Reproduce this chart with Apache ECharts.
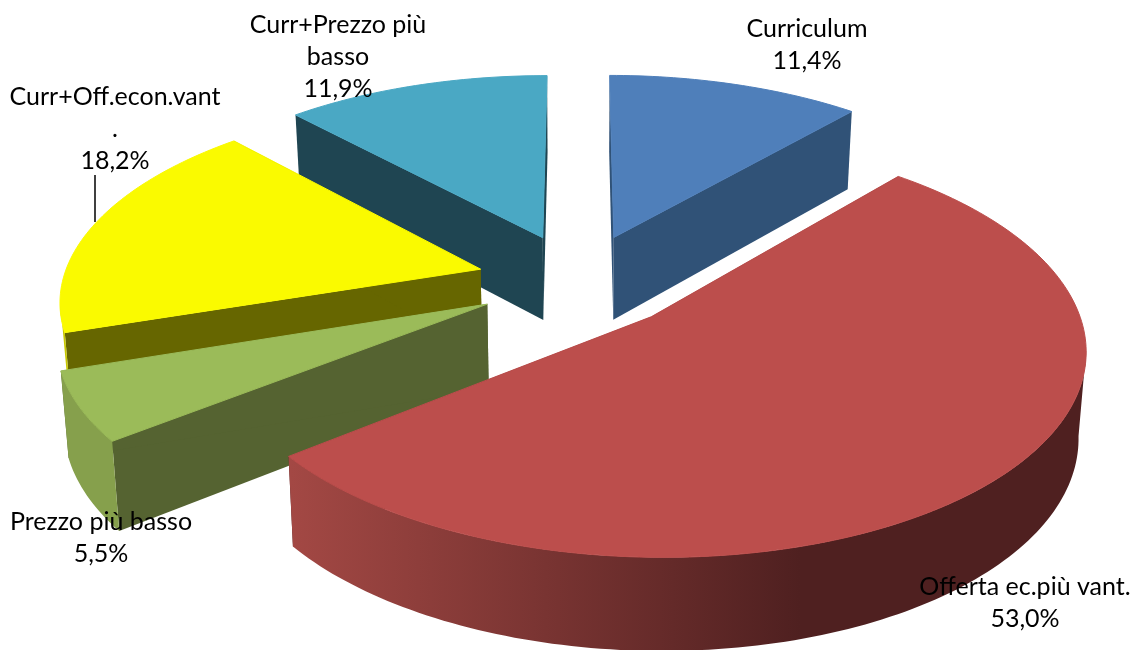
<!DOCTYPE html>
<html>
<head>
<meta charset="utf-8">
<style>
  html, body { margin: 0; padding: 0; background: #fff; }
  #chart { width: 1133px; height: 650px; }
</style>
<script src="https://cdn.jsdelivr.net/npm/echarts@6/dist/echarts.min.js"></script>
</head>
<body>
<div id="chart"></div>
<script>
// slices clockwise from 12 o'clock
const categories = ['Curriculum', 'Offerta ec.più vant.', 'Prezzo più basso', 'Curr+Off.econ.vant\n.', 'Curr+Prezzo più\nbasso'];
const percents = [11.4, 53.0, 5.5, 18.2, 11.9];

const topColors = ['#4F7FBA', '#BC4E4C', '#9BBB59', '#FAFA00', '#4AA8C4'];
const wallColors = ['#305277', '#4F2020', '#556331', '#666600', '#1F4552'];
const rimColors = ['#2A4A6E', null, '#86A04C', '#C8C800', '#3E93AB'];
const paintOrder = [2, 5, 4, 3, 1]; // back to front, 3d pie has no real z-buffer
const labelSpots = [[807, 13], [1025, 571], [101, 506], [115, 81], [338, 9]];

// projection of the tilted pie
const cx = 579, cy = 281, rx = 418, ry = 196, k = 0.14, burst = 0.245, depth = 84;

const total = percents.reduce((a, b) => a + b, 0);

function project(wx, wy, low) {
  const p = 1 / (1 + k * wy);
  let x = rx * wx * p;
  let y = -ry * wy * p;
  if (low) {
    x *= 0.985;
    y += depth * Math.pow(p, 0.6);
  }
  return [cx + x, cy + y];
}

function arcPoints(a0, a1, ox, oy, low) {
  const pts = [];
  const n = Math.max(2, Math.ceil((a1 - a0) / 0.02));
  for (let i = 0; i <= n; i++) {
    const a = a0 + (a1 - a0) * i / n;
    pts.push(project(ox + Math.sin(a), oy + Math.cos(a), low));
  }
  return pts;
}

function polygon(points, fill, z2) {
  return { type: 'polygon', shape: { points: points }, style: { fill: fill }, z2: z2 };
}

function renderSlice(params, api) {
  const i = params.dataIndex;
  let before = 0;
  for (let j = 0; j < i; j++) before += percents[j];
  const a0 = before / total * Math.PI * 2;
  const a1 = (before + api.value(0)) / total * Math.PI * 2;
  const mid = (a0 + a1) / 2;
  const ox = burst * Math.sin(mid), oy = burst * Math.cos(mid);
  const z = paintOrder[i] * 10;

  const top = arcPoints(a0, a1, ox, oy, false);
  const low = arcPoints(a0, a1, ox, oy, true);
  const apex = project(ox, oy, false);
  const apexLow = project(ox, oy, true);

  const face = polygon([apex].concat(top), topColors[i], z + 3);
  // same colour stroke hides the dark wall showing through the seam
  face.style.stroke = topColors[i];
  face.style.lineWidth = 1;

  const children = [
    polygon([apex, top[0], low[0], apexLow], wallColors[i], z),
    polygon([apex, top[top.length - 1], low[low.length - 1], apexLow], wallColors[i], z + 1),
    face
  ];

  // only the part of the rim that faces the viewer
  const r0 = Math.max(a0, Math.PI * 0.55), r1 = Math.min(a1, Math.PI * 1.45);
  if (r1 > r0) {
    // red rim is shaded left to right, the rest are flat
    const rimFill = rimColors[i] || {
      type: 'linear', global: true, x: 291, y: 0, x2: 800, y2: 0,
      colorStops: [{ offset: 0, color: '#A34844' }, { offset: 1, color: '#4F2020' }]
    };
    const rimTop = arcPoints(r0, r1, ox, oy, false);
    const rimLow = arcPoints(r0, r1, ox, oy, true);
    children.push(polygon(rimTop.concat(rimLow.reverse()), rimFill, z + 2));
  }

  return { type: 'group', children: children };
}

const sliceLabels = categories.map((name, i) => ({
  type: 'text',
  x: labelSpots[i][0],
  y: labelSpots[i][1],
  z: 10,
  style: {
    text: name + '\n' + percents[i].toFixed(1).replace('.', ',') + '%',
    align: 'center',
    fill: '#000',
    font: '25px Lato, "Open Sans", sans-serif',
    lineHeight: 32
  }
}));

const chart = echarts.init(document.getElementById('chart'));
chart.setOption({
  animation: false,
  backgroundColor: '#fff',
  xAxis: { show: false, min: 0, max: 1 },
  yAxis: { show: false, min: 0, max: 1 },
  grid: { left: 0, right: 0, top: 0, bottom: 0 },
  series: [{
    type: 'custom',
    coordinateSystem: 'none',
    clip: false,
    renderItem: renderSlice,
    data: percents
  }],
  graphic: sliceLabels.concat([{
    type: 'line',
    z: 10,
    shape: { x1: 95, y1: 175, x2: 95, y2: 222 },
    style: { stroke: '#000', lineWidth: 1.5 }
  }])
});
</script>
</body>
</html>
